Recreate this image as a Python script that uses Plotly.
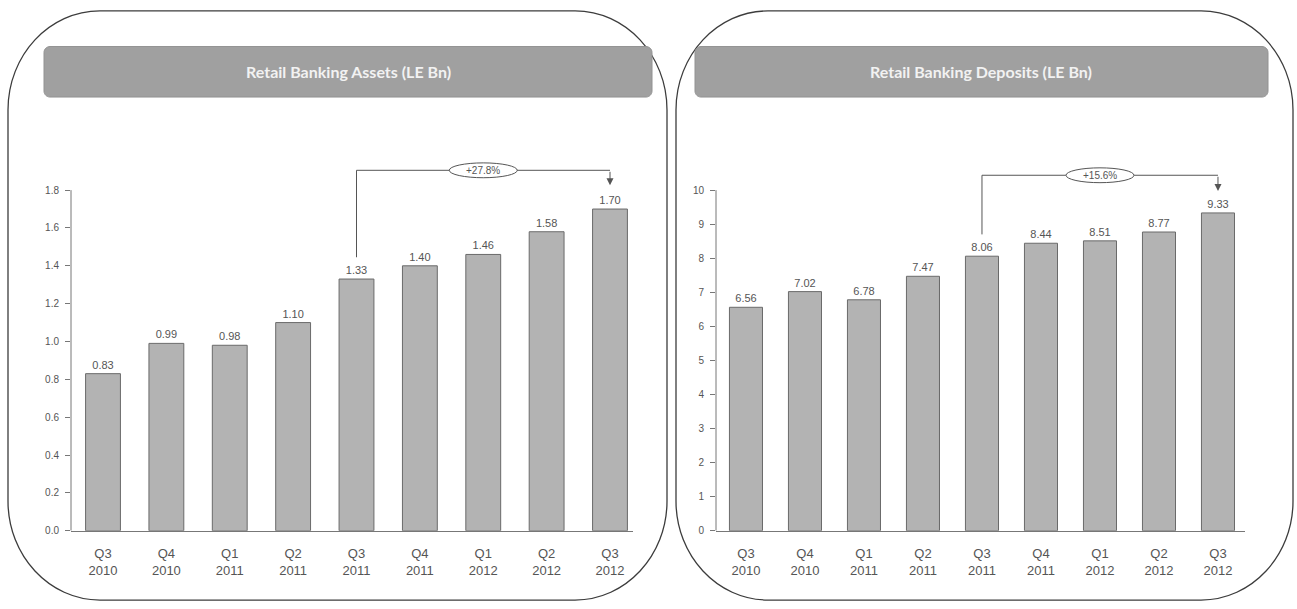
import plotly.graph_objects as go

# ---- data ----
quarters = ["Q3<br>2010", "Q4<br>2010", "Q1<br>2011", "Q2<br>2011", "Q3<br>2011",
            "Q4<br>2011", "Q1<br>2012", "Q2<br>2012", "Q3<br>2012"]
assets = [0.83, 0.99, 0.98, 1.10, 1.33, 1.40, 1.46, 1.58, 1.70]
deposits = [6.56, 7.02, 6.78, 7.47, 8.06, 8.44, 8.51, 8.77, 9.33]
asset_ticks = [0.0, 0.2, 0.4, 0.6, 0.8, 1.0, 1.2, 1.4, 1.6, 1.8]
deposit_ticks = [0, 1, 2, 3, 4, 5, 6, 7, 8, 9, 10]
titles = ["Retail Banking Assets (LE Bn)", "Retail Banking Deposits (LE Bn)"]
growth_labels = ["+27.8%", "+15.6%"]
growth_from, growth_to = 4, 8      # Q3 2011 -> Q3 2012

W, H = 1297, 609
TXT = "#555555"
FONT = "Liberation Sans, Arial, sans-serif"


def fx(x):
    return x / W


def fy(y):
    return 1 - y / H


def rounded_path(x0, y0, x1, y1, rx, ry):
    """Rounded rectangle path in paper coordinates from pixel corners."""
    kx, ky = 0.5523 * rx, 0.5523 * ry
    p = [
        f"M{fx(x0 + rx)},{fy(y0)}",
        f"L{fx(x1 - rx)},{fy(y0)}",
        f"C{fx(x1 - rx + kx)},{fy(y0)} {fx(x1)},{fy(y0 + ry - ky)} {fx(x1)},{fy(y0 + ry)}",
        f"L{fx(x1)},{fy(y1 - ry)}",
        f"C{fx(x1)},{fy(y1 - ry + ky)} {fx(x1 - rx + kx)},{fy(y1)} {fx(x1 - rx)},{fy(y1)}",
        f"L{fx(x0 + rx)},{fy(y1)}",
        f"C{fx(x0 + rx - kx)},{fy(y1)} {fx(x0)},{fy(y1 - ry + ky)} {fx(x0)},{fy(y1 - ry)}",
        f"L{fx(x0)},{fy(y0 + ry)}",
        f"C{fx(x0)},{fy(y0 + ry - ky)} {fx(x0 + rx - kx)},{fy(y0)} {fx(x0 + rx)},{fy(y0)}",
        "Z",
    ]
    return " ".join(p)


# plot-area geometry (pixels)
y_zero_px, y_top_px, y_tick_top_px = 536, 144, 192
panels = [
    dict(series=assets, ticks=asset_ticks, tickfmt=".1f", top=1.8,
         xdom=(71, 633), xrange=(-0.505, 8.363), bw=0.55,
         box=(8, 11, 667, 606), banner=(44, 47, 652, 98),
         bracket_px=172, tip_px=187),
    dict(series=deposits, ticks=deposit_ticks, tickfmt="d", top=10,
         xdom=(716, 1245), xrange=(-0.508, 8.458), bw=0.56,
         box=(676, 11, 1293, 606), banner=(695, 47, 1268, 98),
         bracket_px=177, tip_px=193),
]

fig = go.Figure()
shapes, annotations = [], []
xs = list(range(len(quarters)))

for i, p in enumerate(panels):
    xa = "x" if i == 0 else "x2"
    ya = "y" if i == 0 else "y2"
    px_per_unit = (y_zero_px - y_tick_top_px) / p["top"]
    yr_top = (y_zero_px - y_top_px) / px_per_unit

    fig.add_trace(go.Bar(
        x=xs, y=p["series"], width=p["bw"], xaxis=xa, yaxis=ya,
        marker=dict(color="#b3b3b3", line=dict(color="#6a6a6a", width=1)),
        texttemplate="%{y:.2f}", textposition="outside", cliponaxis=False,
        textfont=dict(family=FONT, size=11, color=TXT),
        hoverinfo="skip", showlegend=False,
    ))

    lay_x = dict(domain=[fx(p["xdom"][0]), fx(p["xdom"][1])], range=list(p["xrange"]),
                 tickvals=xs, ticktext=quarters, showgrid=False, zeroline=False,
                 showline=True, linecolor="#777777", linewidth=1, ticks="",
                 ticklabelstandoff=11,
                 tickfont=dict(family=FONT, size=13, color=TXT), anchor=ya)
    lay_y = dict(domain=[fy(y_zero_px), fy(y_top_px)], range=[0, yr_top],
                 tickvals=p["ticks"], tickformat=p["tickfmt"], showgrid=False,
                 zeroline=False, showline=False, ticks="outside", ticklen=5,
                 tickcolor="#777777", ticklabelstandoff=4,
                 tickfont=dict(family=FONT, size=10, color=TXT), anchor=xa)
    fig.update_layout(**{("xaxis" if i == 0 else "xaxis2"): lay_x,
                         ("yaxis" if i == 0 else "yaxis2"): lay_y})

    # vertical axis line up to the top tick
    shapes.append(dict(type="line", xref=f"{xa} domain", yref=ya, x0=0, x1=0,
                       y0=0, y1=p["top"], line=dict(color="#777777", width=1)))

    # growth bracket from Q3 2011 to Q3 2012
    v0 = p["series"][growth_from]
    line_bottom = v0 + 22 / px_per_unit
    line_top = (y_zero_px - p["bracket_px"]) / px_per_unit
    tip = (y_zero_px - p["tip_px"]) / px_per_unit
    bracket = dict(color="#555555", width=1)
    shapes.append(dict(type="line", xref=xa, yref=ya, x0=growth_from, x1=growth_from,
                       y0=line_bottom, y1=line_top, line=bracket))
    shapes.append(dict(type="line", xref=xa, yref=ya, x0=growth_from, x1=growth_to,
                       y0=line_top, y1=line_top, line=bracket))
    annotations.append(dict(x=growth_to, y=tip, xref=xa, yref=ya, ax=growth_to,
                            ay=line_top, axref=xa, ayref=ya, text="", showarrow=True,
                            arrowhead=2, arrowsize=1.4, arrowwidth=1,
                            arrowcolor="#555555", standoff=0))
    unit_px = (p["xdom"][1] - p["xdom"][0]) / (p["xrange"][1] - p["xrange"][0])
    ex = 34 / unit_px
    ey = 7.5 / px_per_unit
    cx = 6
    shapes.append(dict(type="circle", xref=xa, yref=ya, x0=cx - ex, x1=cx + ex,
                       y0=line_top - ey, y1=line_top + ey, fillcolor="white",
                       line=dict(color="#555555", width=1)))
    annotations.append(dict(x=cx, y=line_top, xref=xa, yref=ya, text=growth_labels[i],
                            showarrow=False, xanchor="center", yanchor="middle",
                            font=dict(family=FONT, size=10, color=TXT)))

    # rounded panel frame
    bx0, by0, bx1, by1 = p["box"]
    shapes.append(dict(type="path", xref="paper", yref="paper",
                       path=rounded_path(bx0, by0, bx1, by1, 92, 100),
                       line=dict(color="#3c3c3c", width=1.3), layer="below"))
    # title banner
    tx0, ty0, tx1, ty1 = p["banner"]
    shapes.append(dict(type="path", xref="paper", yref="paper",
                       path=rounded_path(tx0, ty0, tx1, ty1, 6, 6),
                       fillcolor="#a0a0a0", line=dict(color="#929292", width=1)))
    annotations.append(dict(x=fx((tx0 + tx1) / 2), y=fy((ty0 + ty1) / 2),
                            xref="paper", yref="paper", text=titles[i], showarrow=False,
                            xanchor="center", yanchor="middle",
                            font=dict(family="Lato, Open Sans, sans-serif", size=16,
                                      color="#f2f2f2", weight="bold")))

fig.update_layout(
    width=W, height=H, margin=dict(l=0, r=0, t=0, b=0),
    paper_bgcolor="white", plot_bgcolor="rgba(0,0,0,0)",
    shapes=shapes, annotations=annotations, showlegend=False,
)

fig.write_html("out.html")
